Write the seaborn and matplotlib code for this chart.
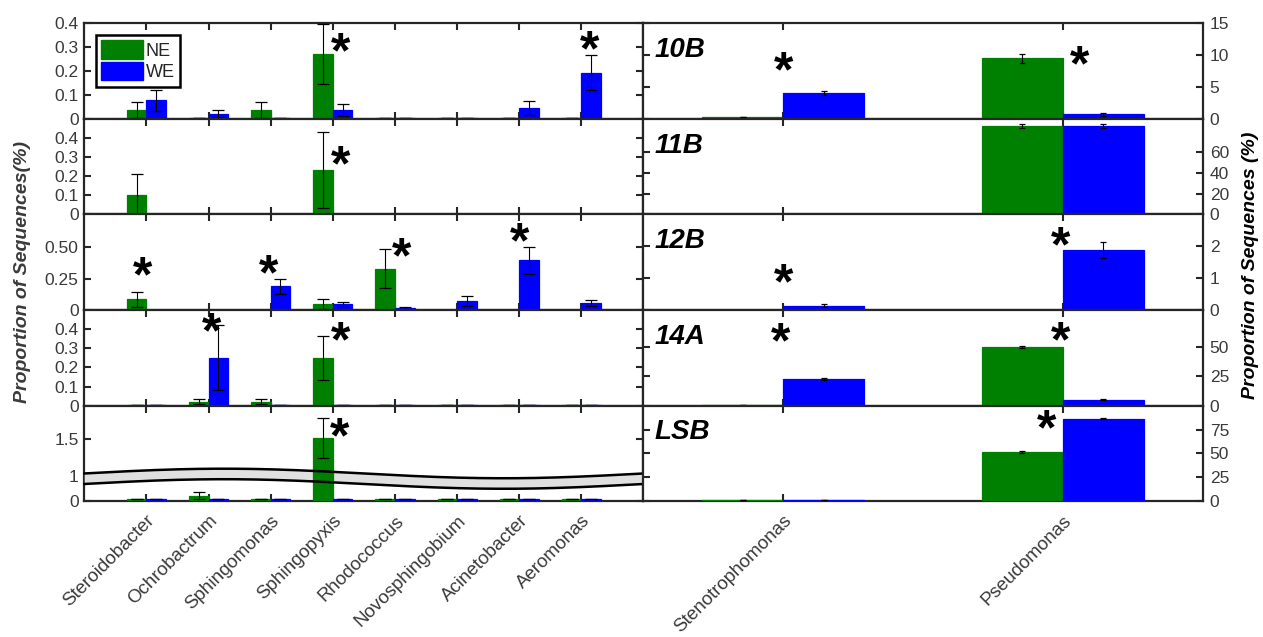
import numpy as np
import pandas as pd
import matplotlib
matplotlib.use('Agg')
import matplotlib.pyplot as plt
import matplotlib.patches as mpatches
import matplotlib.transforms as mtransforms
import seaborn as sns

# ---- data (proportion of sequences, %) ----
samples = ['10B', '11B', '12B', '14A', 'LSB']
groups = ['NE', 'WE']
left_genera = ['Steroidobacter', 'Ochrobactrum', 'Sphingomonas', 'Sphingopyxis',
               'Rhodococcus', 'Novosphingobium', 'Acinetobacter', 'Aeromonas']
right_genera = ['Stenotrophomonas', 'Pseudomonas']

left_ne = [
    [0.038, 0.002, 0.038, 0.272, 0.002, 0.002, 0.002, 0.002],
    [0.100, 0.003, 0.003, 0.232, 0.003, 0.003, 0.003, 0.003],
    [0.085, 0.003, 0.003, 0.045, 0.328, 0.003, 0.003, 0.003],
    [0.002, 0.021, 0.021, 0.249, 0.002, 0.002, 0.002, 0.002],
    [0.08, 0.21, 0.08, 1.52, 0.08, 0.08, 0.08, 0.08],
]
left_ne_err = [
    [0.033, 0, 0.033, 0.125, 0, 0, 0, 0],
    [0.11, 0, 0, 0.2, 0, 0, 0, 0],
    [0.06, 0, 0, 0.04, 0.155, 0, 0, 0],
    [0, 0.014, 0.014, 0.115, 0, 0, 0, 0],
    [0, 0.14, 0, 0.27, 0, 0, 0, 0],
]
left_we = [
    [0.078, 0.021, 0.002, 0.037, 0.002, 0.002, 0.045, 0.194],
    [0.003, 0.003, 0.003, 0.003, 0.003, 0.003, 0.003, 0.003],
    [0.003, 0.003, 0.188, 0.045, 0.013, 0.075, 0.395, 0.053],
    [0.002, 0.251, 0.002, 0.002, 0.002, 0.002, 0.002, 0.002],
    [0.08, 0.08, 0.08, 0.08, 0.08, 0.08, 0.08, 0.08],
]
left_we_err = [
    [0.045, 0.015, 0, 0.025, 0, 0, 0.029, 0.075],
    [0, 0, 0, 0, 0, 0, 0, 0],
    [0, 0, 0.062, 0.022, 0.01, 0.04, 0.11, 0.024],
    [0, 0.17, 0, 0, 0, 0, 0, 0],
    [0, 0, 0, 0, 0, 0, 0, 0],
]

right_ne = [[0.3, 9.5], [0.5, 84.8], [0.01, 0.01], [0.3, 49.5], [1.5, 51.7]]
right_ne_err = [[0, 0.65], [0, 1.8], [0, 0], [0, 1.0], [0, 0.8]]
right_we = [[4.08, 0.73], [0.5, 84.8], [0.14, 1.89], [22.8, 4.9], [1.5, 86.5]]
right_we_err = [[0.3, 0.2], [0, 1.8], [0.05, 0.25], [0.8, 0.5], [0, 0.8]]

# significance stars: (sample, genus, height)
left_stars = [('10B', 'Sphingopyxis', 0.316), ('10B', 'Aeromonas', 0.322),
              ('11B', 'Sphingopyxis', 0.30),
              ('12B', 'Steroidobacter', 0.336), ('12B', 'Sphingomonas', 0.35),
              ('12B', 'Rhodococcus', 0.484), ('12B', 'Acinetobacter', 0.605),
              ('14A', 'Ochrobactrum', 0.426), ('14A', 'Sphingopyxis', 0.383),
              ('LSB', 'Sphingopyxis', 1.65)]
left_star_dx = [0.13, 0.13, 0.13, -0.06, -0.03, 0.1, 0.0, 0.05, 0.12, 0.11]
right_stars = [('10B', 'Stenotrophomonas', 8.87), ('10B', 'Pseudomonas', 9.67),
               ('12B', 'Stenotrophomonas', 1.11), ('12B', 'Pseudomonas', 2.27),
               ('14A', 'Stenotrophomonas', 61.0), ('14A', 'Pseudomonas', 61.3),
               ('LSB', 'Pseudomonas', 83.7)]
right_star_dx = [0.0, 0.06, 0.0, -0.01, -0.01, -0.01, -0.06]

left_ylim = [0.4, 0.5, 0.76, 0.5, 1.96]
left_yticks = [[0, 0.1, 0.2, 0.3, 0.4], [0, 0.1, 0.2, 0.3, 0.4], [0, 0.25, 0.5],
               [0, 0.1, 0.2, 0.3, 0.4], [0, 1, 1.5]]
left_yticklabels = [['0', '0.1', '0.2', '0.3', '0.4'], ['0', '0.1', '0.2', '0.3', '0.4'],
                    ['0', '0.25', '0.50'], ['0', '0.1', '0.2', '0.3', '0.4'], ['0', '1', '1.5']]
right_ylim = [15, 92, 3, 81, 100]
right_yticks = [[0, 5, 10, 15], [0, 20, 40, 60], [0, 1, 2], [0, 25, 50], [0, 25, 50, 75]]

palette = {'NE': '#008000', 'WE': '#0000FF'}
ink = '#262626'
label_col = '#3a3a3a'

sns.set_style('ticks')
plt.rcParams['font.family'] = ['Liberation Sans', 'DejaVu Sans']

fig, axes = plt.subplots(5, 2, figsize=(12.63, 6.37), dpi=100,
                         gridspec_kw=dict(hspace=0, wspace=0))
fig.subplots_adjust(left=0.0667, right=0.9523, top=0.9634, bottom=0.2132)

# broken y axis for the LSB row on the left (0-1 squeezed)
k_low = 0.34


def fwd(y):
    y = np.asarray(y, dtype=float)
    return np.where(y <= 1, y * k_low, k_low + (y - 1))


def inv(d):
    d = np.asarray(d, dtype=float)
    return np.where(d <= k_low, d / k_low, 1 + (d - k_low))


def draw_bars(ax, genera, ne, ne_err, we, we_err, width, capsize):
    df = pd.DataFrame({'genus': genera * 2,
                       'group': ['NE'] * len(genera) + ['WE'] * len(genera),
                       'value': ne + we})
    sns.barplot(data=df, x='genus', y='value', hue='group', order=genera,
                hue_order=groups, palette=palette, width=width, errorbar=None,
                saturation=1, linewidth=0.9, legend=False, zorder=3, ax=ax)
    for p in ax.patches:
        p.set_edgecolor(p.get_facecolor())
    for cont, vals, errs in zip(ax.containers, [ne, we], [ne_err, we_err]):
        xs = [b.get_x() + b.get_width() / 2 for b in cont]
        ax.errorbar(xs, vals, yerr=errs, fmt='none', ecolor='black',
                    elinewidth=0.8, capsize=capsize, capthick=0.9, zorder=4)


def put_stars(ax, genera, stars, dxs, sample):
    fs = 36
    tr = mtransforms.offset_copy(ax.transData, fig=fig, y=-0.47 * fs, units='points')
    for (s, g, h), dx in zip(stars, dxs):
        if s == sample:
            ax.text(genera.index(g) + dx, h, '*', transform=tr, fontsize=fs,
                    fontweight='bold', ha='center', va='baseline', color='black',
                    zorder=6)


for i, s in enumerate(samples):
    axl, axr = axes[i, 0], axes[i, 1]
    if s == 'LSB':
        axl.set_yscale('function', functions=(fwd, inv))
    draw_bars(axl, left_genera, left_ne[i], left_ne_err[i], left_we[i], left_we_err[i],
              0.63, 4)
    draw_bars(axr, right_genera, right_ne[i], right_ne_err[i], right_we[i], right_we_err[i],
              0.58, 2.5)

    axl.set_xlim(-1, 8)
    axr.set_xlim(-0.5, 1.5)
    axl.set_ylim(0, left_ylim[i])
    axr.set_ylim(0, right_ylim[i])
    axl.set_yticks(left_yticks[i])
    axl.set_yticklabels(left_yticklabels[i])
    axr.set_yticks(right_yticks[i])
    axr.set_yticklabels([str(t) for t in right_yticks[i]])

    put_stars(axl, left_genera, left_stars, left_star_dx, s)
    put_stars(axr, right_genera, right_stars, right_star_dx, s)

    axr.text(0.02, 0.72, s, transform=axr.transAxes, fontsize=20, fontweight='bold',
             fontstyle='italic', ha='left', va='center', color='black')

    for ax in (axl, axr):
        ax.set_xlabel('')
        ax.set_ylabel('')
        for sp in ax.spines.values():
            sp.set_visible(True)
            sp.set_linewidth(1.6)
            sp.set_color(ink)
        ax.tick_params(axis='both', direction='in', length=5, width=1.5, color=ink,
                       top=True, bottom=True, left=True, right=True,
                       labelsize=12.5, labelcolor=label_col, pad=4)
    axl.tick_params(labelleft=True, labelright=False)
    axr.tick_params(labelleft=False, labelright=True, pad=5)
    if i < len(samples) - 1:
        axl.tick_params(labelbottom=False)
        axr.tick_params(labelbottom=False)
    else:
        for ax, gen in ((axl, left_genera), (axr, right_genera)):
            ax.set_xticks(range(len(gen)))
            ax.set_xticklabels(gen, rotation=45, ha='right', va='top',
                               rotation_mode='anchor', fontsize=13.5, color=label_col)
            ax.tick_params(axis='x', pad=8)

# wavy break band on the LSB left panel
axb = axes[4, 0]
xb = np.linspace(0, 1, 300)
yc = 0.235 + 0.05 * np.sin(2 * np.pi * xb)
axb.fill_between(xb, yc - 0.055, yc + 0.055, transform=axb.transAxes,
                 color='#e0e0e0', lw=0, zorder=2.7, clip_on=False)
axb.plot(xb, yc + 0.055, transform=axb.transAxes, color='black', lw=1.8, zorder=5,
         clip_on=False)
axb.plot(xb, yc - 0.055, transform=axb.transAxes, color='black', lw=1.8, zorder=5,
         clip_on=False)

# legend
handles = [mpatches.Patch(facecolor=palette[g], edgecolor=palette[g]) for g in groups]
leg = axes[0, 0].legend(handles, groups, loc='upper left', fontsize=13, frameon=True,
                        fancybox=False, framealpha=1, edgecolor='black',
                        handlelength=2.3, handleheight=1.2, handletextpad=0.15,
                        labelspacing=0.12, borderpad=0.3, borderaxespad=0.65)
leg.get_frame().set_linewidth(1.8)
leg.set_zorder(10)

fig.text(0.0175, 0.573, 'Proportion of Sequences(%)', rotation=90, fontsize=14,
         fontweight='bold', fontstyle='italic', ha='center', va='center', color=label_col)
fig.text(0.99, 0.583, 'Proportion of Sequences (%)', rotation=90, fontsize=14,
         fontweight='bold', fontstyle='italic', ha='center', va='center', color='black')

fig.savefig('out.png', dpi=100)
